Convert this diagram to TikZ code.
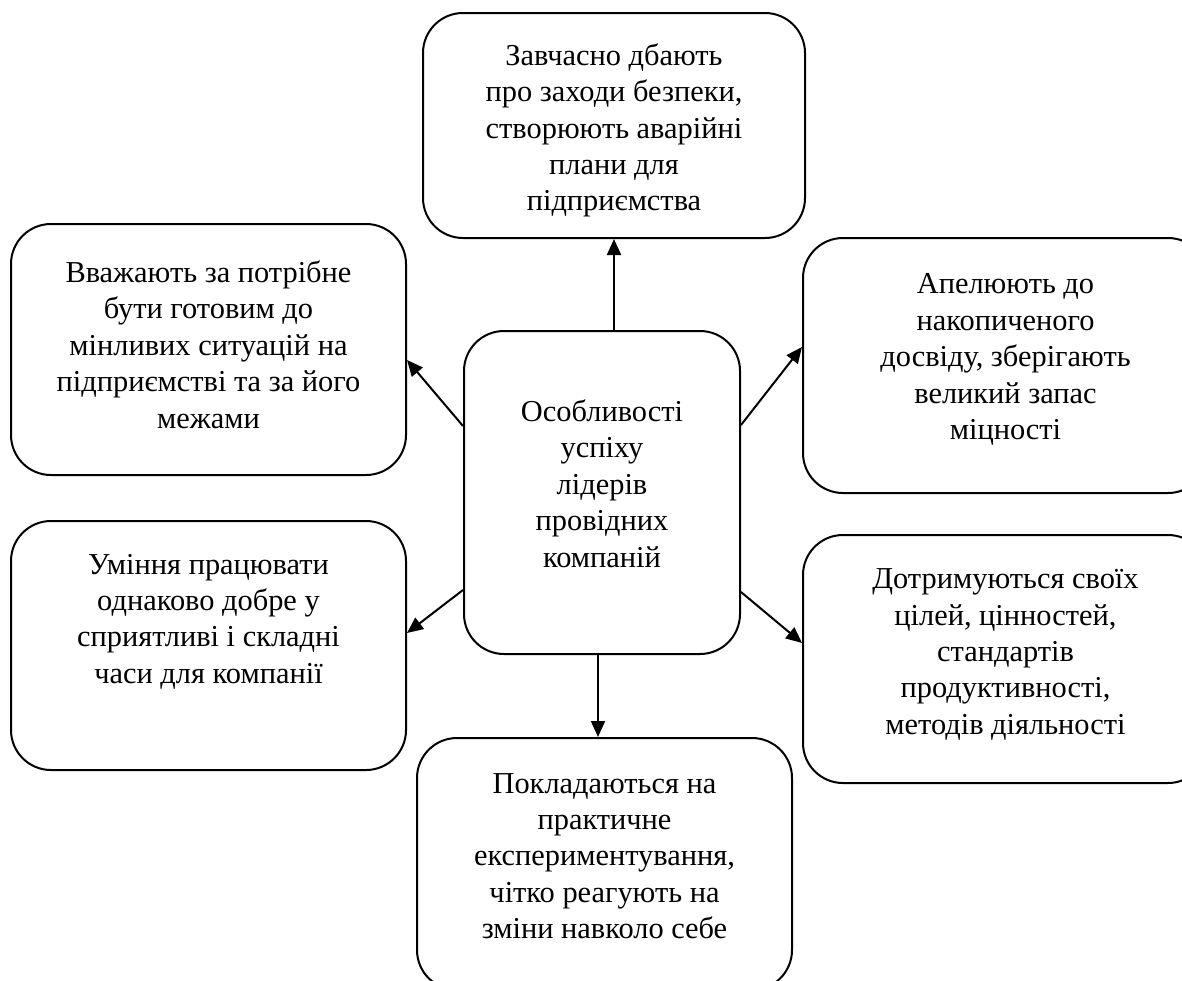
\documentclass[tikz,border=0pt]{standalone}
\usepackage{fontspec}
\setmainfont{Liberation Serif}
\usetikzlibrary{arrows.meta}

\tikzset{
  box/.style={draw, line width=1pt, rounded corners=20pt},
  txt/.style={align=center, font=\fontsize{15.2}{18.2}\selectfont},
  arr/.style={line width=1pt, -{Triangle[length=8pt,width=7pt]}}
}

\begin{document}
\begin{tikzpicture}[x=0.5pt, y=-0.5pt]
    \useasboundingbox (0,0) rectangle (1182,980);
    \node[box, minimum width=138pt, minimum height=161.5pt] (lidery) at (602,492.5) {};
    \node[box, minimum width=191pt, minimum height=112.5pt] (bezpeka) at (614,125.5) {};
    \node[box, minimum width=197.5pt, minimum height=125.5pt] (gotovi) at (208.5,349.5) {};
    \node[box, minimum width=197.5pt, minimum height=124.5pt] (umlinnia) at (208.5,645.5) {};
    \node[box, minimum width=202.5pt, minimum height=127.5pt] (dosvid) at (1005.5,365.5) {};
    \node[box, minimum width=202.5pt, minimum height=124pt] (tsili) at (1005.5,659) {};
    \node[box, minimum width=187.5pt, minimum height=126pt] (praktyka) at (604.5,864) {};

    \node[txt] (lidery-t) at ([yshift=4.5pt]lidery.center) {Особливості\\успіху\\лідерів\\провідних\\компаній};
    \node[txt] (bezpeka-t) at ([yshift=-2.5pt]bezpeka.center) {Завчасно дбають\\про заходи безпеки,\\створюють аварійні\\плани для\\підприємства};
    \node[txt] (gotovi-t) at ([yshift=2.5pt]gotovi.center) {Вважають за потрібне\\бути готовим до\\мінливих ситуацій на\\підприємстві та за його\\межами};
    \node[txt] (umlinnia-t) at ([yshift=12pt]umlinnia.center) {Уміння працювати\\однаково добре у\\сприятливі і складні\\часи для компанії};
    \node[txt] (dosvid-t) at ([yshift=3pt]dosvid.center) {Апелюють до\\накопиченого\\досвіду, зберігають\\великий запас\\міцності};
    \node[txt] (tsili-t) at ([yshift=2.25pt]tsili.center) {Дотримуються своїх\\цілей, цінностей,\\стандартів\\продуктивності,\\методів діяльності};
    \node[txt] (praktyka-t) at ([yshift=4pt]praktyka.center) {Покладаються на\\практичне\\експериментування,\\чітко реагують на\\зміни навколо себе};

    \draw[arr] (lidery.north -| bezpeka.south) -- (bezpeka.south);
    \draw[arr] (lidery.west |- 0,426) -- (gotovi.east |- 0,360);
    \draw[arr] (lidery.west |- 0,590) -- (umlinnia.east |- 0,633);
    \draw[arr] (lidery.east |- 0,425) -- (dosvid.west |- 0,347);
    \draw[arr] (lidery.east |- 0,592) -- (tsili.west |- 0,643);
    \draw[arr] (lidery.south -| 598,0) -- (praktyka.north -| 598,0);
\end{tikzpicture}
\end{document}
